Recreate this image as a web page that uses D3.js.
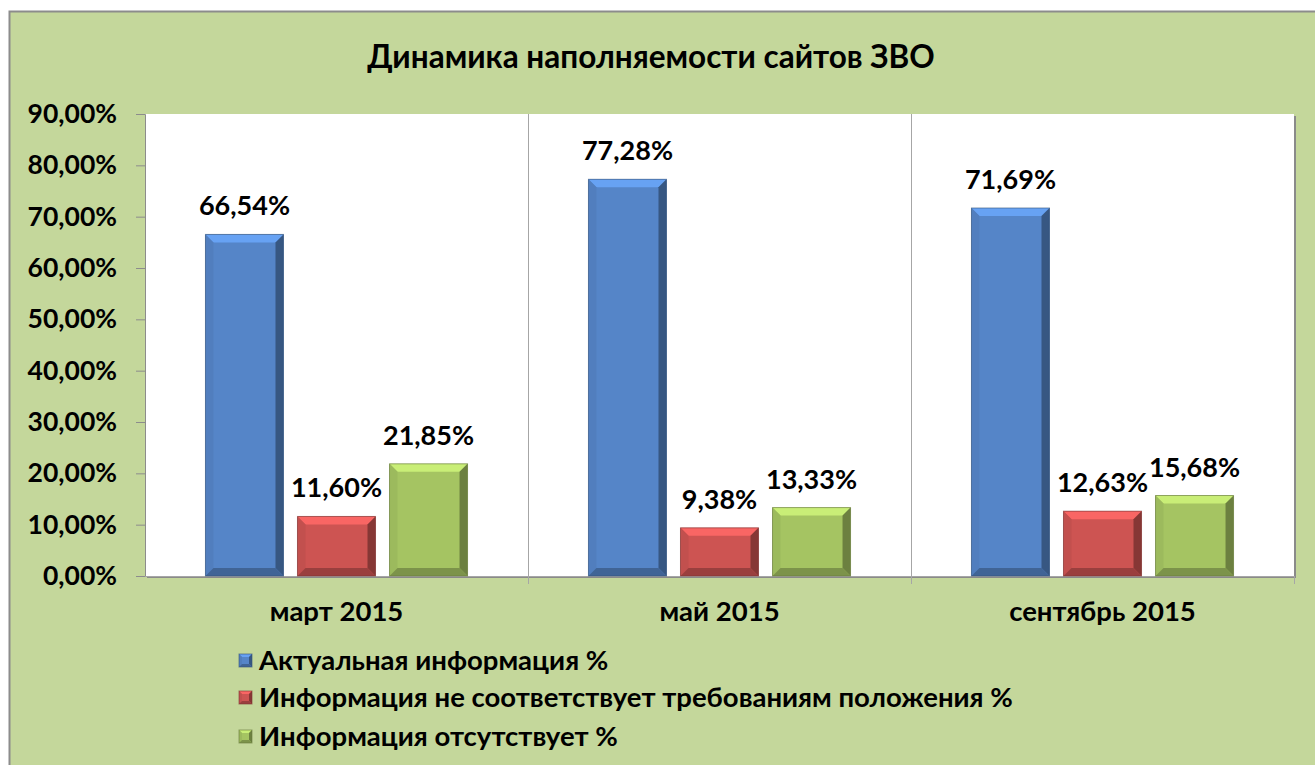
<!DOCTYPE html>
<html>
<head>
<meta charset="utf-8">
<script src="https://cdn.jsdelivr.net/npm/d3@7"></script>
<style>
  body { margin: 0; background: #fff; }
  svg text { font-family: Lato, "Open Sans", sans-serif; font-weight: bold; fill: #000; }
</style>
</head>
<body>
<div id="chart"></div>
<script>
// DATA
const categories = ['март 2015', 'май 2015', 'сентябрь 2015'];
const seriesNames = [
    'Актуальная информация %',
    'Информация не соответствует требованиям положения %',
    'Информация отсутствует %'
];
const actualValues = [66.54, 77.28, 71.69];
const mismatchValues = [11.60, 9.38, 12.63];
const missingValues = [21.85, 13.33, 15.68];
const yTicks = [0, 10, 20, 30, 40, 50, 60, 70, 80, 90];

// colors
const bgColor = '#c4d79b';
const seriesColors = ['#5585c8', '#cd5452', '#a5c462'];

const width = 1315;
const height = 765;
const plot = { left: 145, top: 114, right: 1294, bottom: 576 };

const svg = d3.select('#chart')
    .append('svg')
    .attr('width', width)
    .attr('height', height);

// chart background
svg.append('rect')
    .attr('x', 9.5).attr('y', 11.5)
    .attr('width', 1320).attr('height', 780)
    .attr('fill', bgColor)
    .attr('stroke', '#8c8c8c')
    .attr('stroke-width', 2);

// title
svg.append('text')
    .attr('x', 651).attr('y', 68)
    .attr('text-anchor', 'middle')
    .style('font-size', '31.5px')
    .text('Динамика наполняемости сайтов ЗВО');

// plot area with shadow on the right
svg.append('rect')
    .attr('x', plot.left + 2).attr('y', plot.top + 2)
    .attr('width', plot.right - plot.left).attr('height', plot.bottom - plot.top)
    .attr('fill', '#8a8a8a');
svg.append('rect')
    .attr('x', plot.left).attr('y', plot.top)
    .attr('width', plot.right - plot.left).attr('height', plot.bottom - plot.top)
    .attr('fill', '#fff');

const x0 = d3.scaleBand()
    .domain(categories)
    .range([plot.left, plot.right])
    .paddingInner(0)
    .paddingOuter(0);

const x1 = d3.scaleBand()
    .domain(d3.range(3))
    .range([0, x0.bandwidth()])
    .paddingInner(0.152)
    .paddingOuter(0.657);

const y = d3.scaleLinear()
    .domain([0, 90])
    .range([plot.bottom, plot.top]);

// y axis
const yAxis = svg.append('g')
    .attr('transform', `translate(${plot.left},0)`)
    .call(d3.axisLeft(y)
        .tickValues(yTicks)
        .tickSize(9)
        .tickPadding(19)
        .tickFormat(d => d3.format('.2f')(d).replace('.', ',') + '%'));
yAxis.select('.domain').attr('stroke', '#8c8c8c');
yAxis.selectAll('.tick line').attr('stroke', '#8c8c8c');
yAxis.selectAll('.tick text').style('font-size', '26.5px').attr('fill', '#000');

// category separators
svg.selectAll('.sep')
    .data(categories.slice(1))
    .enter()
    .append('line')
    .attr('x1', d => x0(d) + 0.5).attr('x2', d => x0(d) + 0.5)
    .attr('y1', plot.top).attr('y2', plot.bottom + 8)
    .attr('stroke', '#a6a6a6');
svg.append('line')
    .attr('x1', plot.right + 0.5).attr('x2', plot.right + 0.5)
    .attr('y1', plot.bottom).attr('y2', plot.bottom + 8)
    .attr('stroke', '#a6a6a6');
svg.append('line')
    .attr('x1', plot.left).attr('x2', plot.right)
    .attr('y1', plot.bottom + 0.5).attr('y2', plot.bottom + 0.5)
    .attr('stroke', '#a6a6a6');

// category labels
svg.selectAll('.cat')
    .data(categories)
    .enter()
    .append('text')
    .attr('x', d => x0(d) + x0.bandwidth() / 2)
    .attr('y', 621)
    .attr('text-anchor', 'middle')
    .style('font-size', '27.5px')
    .text(d => d);

// beveled box
function bevelBox(g, bx, by, bw, bh, color, b) {
    const c = d3.color(color);
    g.append('rect')
        .attr('x', bx).attr('y', by).attr('width', bw).attr('height', bh)
        .attr('fill', color);
    const poly = (pts, fill) => g.append('polygon')
        .attr('points', pts.map(p => p.join(',')).join(' '))
        .attr('fill', fill);
    poly([[bx, by], [bx + bw, by], [bx + bw - b, by + b], [bx + b, by + b]], c.brighter(0.55));
    poly([[bx, by], [bx + b, by + b], [bx + b, by + bh - b], [bx, by + bh]], c.darker(0.15));
    poly([[bx + bw, by], [bx + bw, by + bh], [bx + bw - b, by + bh - b], [bx + bw - b, by + b]], c.darker(1.2));
    poly([[bx, by + bh], [bx + bw, by + bh], [bx + bw - b, by + bh - b], [bx + b, by + bh - b]], c.darker(0.8));
    g.append('rect')
        .attr('x', bx).attr('y', by).attr('width', bw).attr('height', bh)
        .attr('fill', 'none')
        .attr('stroke', c.darker(1.4))
        .attr('stroke-opacity', 0.6)
        .attr('stroke-width', 1);
}

const allSeries = [actualValues, mismatchValues, missingValues];
const bars = svg.append('g');
const fmt = v => d3.format('.2f')(v).replace('.', ',') + '%';

categories.forEach((cat, ci) => {
    allSeries.forEach((vals, si) => {
        const bx = x0(cat) + x1(si);
        const by = y(vals[ci]);
        const bh = plot.bottom - by;
        bevelBox(bars, bx, by, x1.bandwidth(), bh, seriesColors[si], 8);
        bars.append('text')
            .attr('x', bx + x1.bandwidth() / 2)
            .attr('y', by - 19)
            .attr('text-anchor', 'middle')
            .style('font-size', '27px')
            .text(fmt(vals[ci]));
    });
});

// legend
const legend = svg.append('g');
const legendY = [660, 697, 736];
seriesNames.forEach((name, i) => {
    bevelBox(legend, 239, legendY[i] - 6, 13, 13, seriesColors[i], 3);
    legend.append('text')
        .attr('x', 259)
        .attr('y', legendY[i] + 10)
        .style('font-size', '27.5px')
        .text(name);
});
</script>
</body>
</html>
